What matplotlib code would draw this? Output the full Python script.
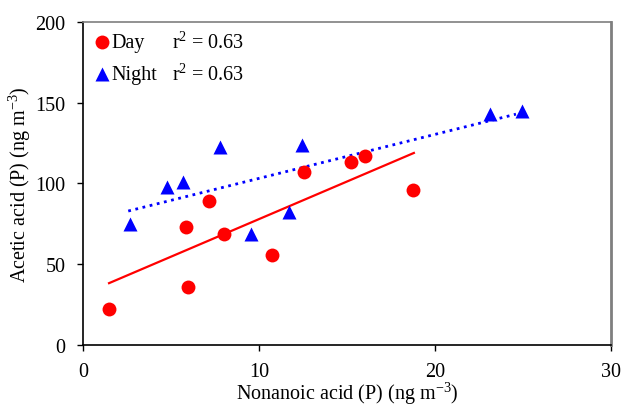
import numpy as np
import matplotlib
matplotlib.use("Agg")
import matplotlib.pyplot as plt

plt.rcParams['font.family'] = ['Liberation Serif', 'DejaVu Serif']
plt.rcParams['mathtext.fontset'] = 'custom'
plt.rcParams['mathtext.rm'] = 'Liberation Serif'
plt.rcParams['mathtext.default'] = 'regular'

day_x = [1.45, 5.85, 5.95, 7.15, 8.0, 10.75, 12.55, 15.2, 16.05, 18.75]
day_y = [22.3, 73.0, 36.0, 89.0, 68.6, 55.7, 107.0, 113.2, 117.2, 95.9]
night_x = [2.65, 4.75, 5.7, 7.8, 9.55, 11.7, 12.45, 23.15, 24.95]
night_y = [75.0, 97.5, 100.8, 122.5, 68.5, 82.0, 124.0, 143.0, 144.5]
# fitted trend lines (slope, intercept) as drawn in the chart
day_fit = (4.65, 31.4)
night_fit = (2.72, 75.9)
day_fit_range = (1.48, 18.8)
night_fit_range = (2.57, 24.6)
r2_day = "0.63"
r2_night = "0.63"

fig = plt.figure(figsize=(6.25, 4.10), dpi=100)
ax = fig.add_axes([0.1328, 0.156, 0.8448, 0.7886])

fs = 14.5
for (m, b), rng, col, ls, lw in [(day_fit, day_fit_range, 'red', '-', 1.6),
                                  (night_fit, night_fit_range, 'blue', ':', 2.0)]:
    xl = np.array(rng)
    ax.plot(xl, m * xl + b, color=col, ls=ls, lw=lw, zorder=2)

ax.plot(day_x, day_y, 'o', color='red', ms=10, mec='none', zorder=3)
ax.plot(night_x, night_y, '^', color='blue', ms=10.5, mec='none', zorder=3)

ax.set_xlim(0, 30)
ax.set_ylim(0, 200)
ax.set_xticks([0, 10, 20, 30])
ax.set_yticks([0, 50, 100, 150, 200])
ax.tick_params(direction='out', length=4.5, width=1, labelsize=fs, colors='black', pad=8)
ax.tick_params(axis='x', pad=8)
for s in ['left', 'bottom']:
    ax.spines[s].set_color('black')
    ax.spines[s].set_linewidth(1.2)
ax.spines['top'].set_color('#7f7f7f')
ax.spines['top'].set_linewidth(1.2)
ax.spines['right'].set_color('#7f7f7f')
ax.spines['right'].set_linewidth(2)

ax.set_xlabel("Nonanoic acid (P) (ng m$^{-3}$)", fontsize=fs, labelpad=-1)
ax.set_ylabel("Acetic acid (P) (ng m$^{-3}$)", fontsize=fs, labelpad=2)

# legend-like annotations
ax.plot([0.036], [0.937], 'o', color='red', ms=10, mec='none', transform=ax.transAxes, clip_on=False)
ax.plot([0.036], [0.838], '^', color='blue', ms=10.5, mec='none', transform=ax.transAxes, clip_on=False)
ax.text(0.054, 0.937, "Day", transform=ax.transAxes, fontsize=fs, va='center')
ax.text(0.054, 0.838, "Night", transform=ax.transAxes, fontsize=fs, va='center')
ax.text(0.168, 0.937, "r$^{2}$ = " + r2_day, transform=ax.transAxes, fontsize=fs, va='center')
ax.text(0.168, 0.838, "r$^{2}$ = " + r2_night, transform=ax.transAxes, fontsize=fs, va='center')

fig.savefig("out.png", dpi=100)
